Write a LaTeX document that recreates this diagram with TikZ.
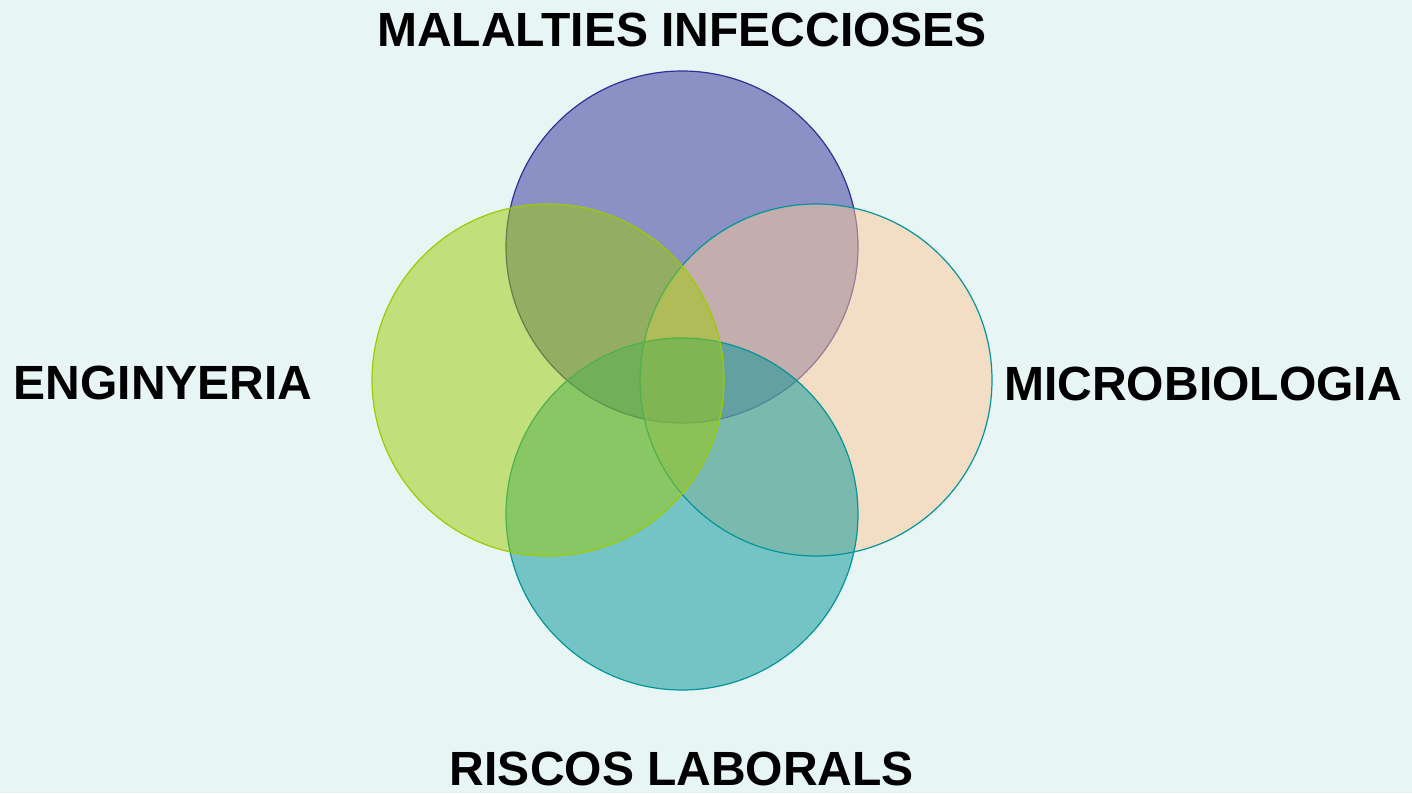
\documentclass[tikz,border=0pt]{standalone}
\usepackage{fontspec}
\setmainfont{Liberation Sans}
\begin{document}
\begin{tikzpicture}[x=0.5pt,y=-0.5pt]
\definecolor{bgc}{RGB}{232,245,245}
\definecolor{topc}{RGB}{48,47,151}
\definecolor{leftc}{RGB}{156,203,3}
\definecolor{rightc}{RGB}{254,201,151}
\definecolor{botc}{RGB}{2,149,153}
\tikzset{
  venn/.style={circle, minimum size=352*0.5pt, inner sep=0pt, line width=0.6pt, fill opacity=0.5, draw opacity=1},
  lbl/.style={font=\bfseries\fontsize{24}{28}\selectfont, text=black, inner sep=0pt, anchor=base}
}
\fill[bgc] (0,0) rectangle (1412,793);
\useasboundingbox (0,0) rectangle (1412,793);
\node[venn, fill=topc, draw=topc] (top) at (682,247) {};
\node[venn, fill=rightc, draw=botc] (right) at (816,380) {};
\node[venn, fill=botc, draw=botc] (bottom) at (682,514) {};
\node[venn, fill=leftc, draw=leftc] (left) at (548,380) {};
\node[lbl] (ttop) at (682,46) {MALALTIES INFECCIOSES};
\node[lbl] (tleft) at (163,399) {ENGINYERIA};
\node[lbl] (tright) at (1203,400) {MICROBIOLOGIA};
\node[lbl] (tbot) at (682,785) {RISCOS LABORALS};
\end{tikzpicture}
\end{document}
